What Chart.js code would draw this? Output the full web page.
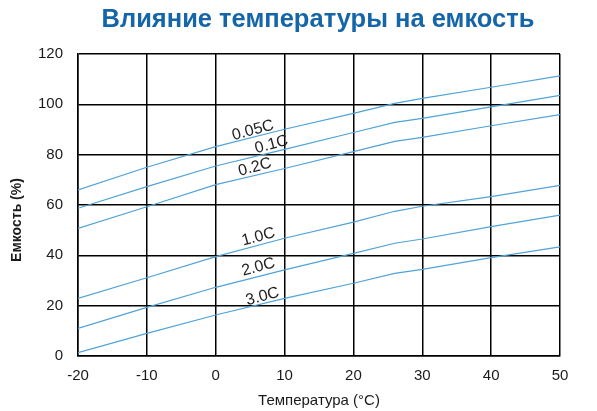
<!DOCTYPE html>
<html><head><meta charset="utf-8">
<script src="https://cdn.jsdelivr.net/npm/chart.js@4/dist/chart.umd.min.js"></script>
<style>html,body{margin:0;padding:0;background:#fff}#wrap{width:597px;height:411px;position:relative}</style>
</head><body><div id="wrap"><canvas id="c" width="597" height="411"></canvas></div>
<script>
// Data
const temps = [-20, -10, 0, 10, 20, 26, 30, 40, 50];
const cap005 = [66.0, 75.0, 83.2, 90.1, 96.4, 100.4, 102.4, 106.8, 111.3];
const cap01  = [58.7, 67.3, 75.5, 82.1, 88.8, 92.8, 94.4, 99.0, 103.6];
const cap02  = [50.7, 59.3, 68.1, 74.5, 81.2, 85.3, 86.9, 91.5, 95.9];
const cap10  = [22.9, 31.1, 39.5, 46.8, 53.2, 57.5, 59.5, 63.3, 67.8];
const cap20  = [11.0, 19.3, 27.3, 34.2, 40.8, 44.8, 46.5, 51.4, 56.0];
const cap30  = [1.3, 9.0, 16.3, 22.9, 28.9, 32.8, 34.4, 39.1, 43.4];
const seriesNames = ['0.05C', '0.1C', '0.2C', '1.0C', '2.0C', '3.0C'];
const seriesValues = [cap005, cap01, cap02, cap10, cap20, cap30];
const xTickValues = [-20, -10, 0, 10, 20, 30, 40, 50];
const yTickValues = [0, 20, 40, 60, 80, 100, 120];
const titleText = 'Влияние температуры на емкость';
const xTitle = 'Температура (°C)';
const yTitle = 'Емкость (%)';

// label anchors in data coordinates (temperature, capacity)
const labelAnchors = [
  [5.4, 89.6], [8.1, 84.0], [5.7, 75.0], [6.2, 47.3], [6.2, 35.3], [6.8, 23.6]
];

const FONT = '"Liberation Sans", Arial, sans-serif';
const LINE_COLOR = '#4fa3d8';

const datasets = seriesNames.map((name, i) => ({
  label: name,
  data: temps.map((t, j) => ({x: t, y: seriesValues[i][j]})),
  borderColor: LINE_COLOR,
  borderWidth: 1.2,
  pointRadius: 0,
  tension: 0,
  fill: false
}));

const overlay = {
  id: 'overlay',
  afterDraw(chart) {
    const ctx = chart.ctx;
    const xs = chart.scales.x, ys = chart.scales.y;
    ctx.save();
    ctx.fillStyle = '#1566a9';
    ctx.font = 'bold 25.5px ' + FONT;
    ctx.textAlign = 'center';
    ctx.textBaseline = 'middle';
    ctx.fillText(titleText, 318, 20);
    ctx.restore();

    // y axis title (sits a little below the plot centre in the reference)
    ctx.save();
    ctx.fillStyle = '#1a1a1a';
    ctx.font = 'bold 14px ' + FONT;
    ctx.textAlign = 'center';
    ctx.textBaseline = 'middle';
    ctx.translate(17, 220);
    ctx.rotate(-Math.PI / 2);
    ctx.fillText(yTitle, 0, 0);
    ctx.restore();

    ctx.save();
    ctx.fillStyle = '#222';
    ctx.font = '16px ' + FONT;
    ctx.textAlign = 'center';
    ctx.textBaseline = 'middle';
    seriesNames.forEach((name, i) => {
      const px = xs.getPixelForValue(labelAnchors[i][0]);
      const py = ys.getPixelForValue(labelAnchors[i][1]);
      ctx.save();
      ctx.translate(px, py);
      ctx.rotate(-15 * Math.PI / 180);
      ctx.fillText(name, 0, 0);
      ctx.restore();
    });
    ctx.restore();
  }
};

new Chart(document.getElementById('c'), {
  type: 'line',
  data: {datasets},
  options: {
    responsive: false,
    animation: false,
    layout: {padding: {top: 54, right: 37, left: 0, bottom: 0}},
    plugins: {legend: {display: false}, tooltip: {enabled: false}, title: {display: false}},
    scales: {
      x: {
        type: 'linear', min: -20, max: 50,
        afterBuildTicks(s) { s.ticks = xTickValues.map(v => ({value: v})); },
        afterFit(s) { s.height = 55; },
        grid: {color: '#000', lineWidth: 1.5, drawTicks: false},
        border: {color: '#000', width: 1.5},
        ticks: {padding: 11, color: '#1a1a1a', font: {family: FONT, size: 15}, maxRotation: 0},
        title: {display: true, text: xTitle, color: '#1a1a1a', font: {family: FONT, size: 15}, padding: {top: 0, bottom: 1}}
      },
      y: {
        min: 0, max: 120,
        afterBuildTicks(s) { s.ticks = yTickValues.map(v => ({value: v})); },
        afterFit(s) { s.width = 78; },
        grid: {color: '#000', lineWidth: 1.5, drawTicks: false},
        border: {color: '#000', width: 1.5},
        ticks: {padding: 15, color: '#1a1a1a', font: {family: FONT, size: 15}},
        title: {display: false, text: yTitle}
      }
    }
  },
  plugins: [overlay]
});
</script>
</body></html>
